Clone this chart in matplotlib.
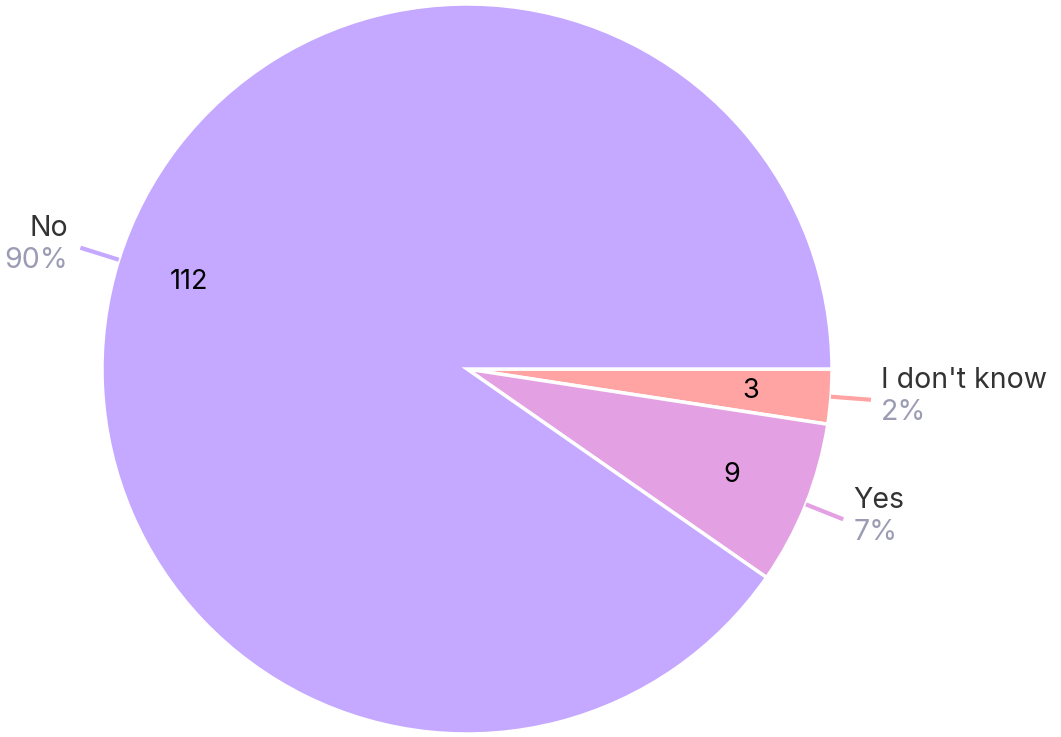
import numpy as np
import matplotlib
matplotlib.use("Agg")
import matplotlib.pyplot as plt

labels = ["I don't know", "Yes", "No"]
counts = [3, 9, 112]
percents = ["2%", "7%", "90%"]
colors = ["#FFA3A3", "#E3A0E3", "#C5A8FF"]

plt.rcParams['font.family'] = ['Inter', 'DejaVu Sans']

W, H = 1061, 737
fig = plt.figure(figsize=(W / 100, H / 100), dpi=100)
ax = fig.add_axes([0, 0, 1, 1])

cx, cy, R = 467, 368, 365
wedges, _ = ax.pie(counts, colors=colors, startangle=0, counterclock=False,
                   center=(cx, cy), radius=R, frame=True,
                   wedgeprops=dict(edgecolor='white', linewidth=2.5))
ax.set_xlim(0, W)
ax.set_ylim(0, H)
ax.set_aspect('equal')
ax.axis('off')

inner_r = [0.78, 0.78, 0.80]
for w, lab, cnt, pct, col, ir in zip(wedges, labels, counts, percents, colors, inner_r):
    mid = np.deg2rad((w.theta1 + w.theta2) / 2)
    c, s = np.cos(mid), np.sin(mid)
    ax.text(cx + ir * R * c, cy + ir * R * s, str(cnt), ha='center', va='center',
            fontsize=19.5, color='black')
    x0, y0 = cx + 1.0 * R * c, cy + 1.0 * R * s
    x1, y1 = cx + 1.11 * R * c, cy + 1.11 * R * s
    ax.plot([x0, x1], [y0, y1], color=col, lw=3, solid_capstyle='butt')
    if c >= 0:
        tx, ha = x1 + 10, 'left'
    else:
        tx, ha = x1 - 12, 'right'
    ax.text(tx, y1 + 19, lab, ha=ha, va='center', fontsize=20.5, color='#333333')
    ax.text(tx, y1 - 13, pct, ha=ha, va='center', fontsize=20.5, color='#9B9BB4')

fig.savefig("out.png", dpi=100, facecolor='white')
